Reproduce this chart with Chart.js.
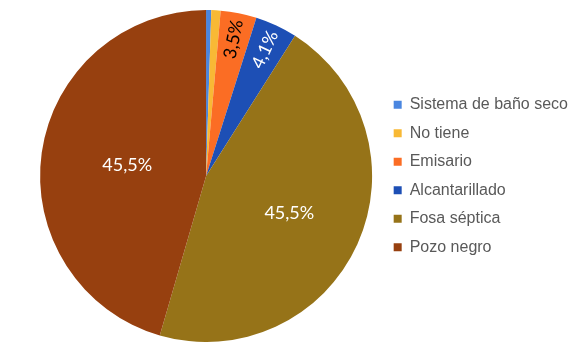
<!DOCTYPE html>
<html>
<head>
<meta charset="utf-8">
<script src="https://cdn.jsdelivr.net/npm/chart.js"></script>
<style>
  html, body { margin: 0; padding: 0; background: #fff; }
  #wrap { width: 569px; height: 342px; }
</style>
</head>
<body>
<div id="wrap"><canvas id="pieChart" width="569" height="342"></canvas></div>
<script>
// Tipo de sistema de eliminación de excretas (%)
const categories = ['Sistema de baño seco', 'No tiene', 'Emisario', 'Alcantarillado', 'Fosa séptica', 'Pozo negro'];
const shares = [0.5, 0.9, 3.5, 4.1, 45.5, 45.5];
const sliceColors = ['#4a86e0', '#f8b935', '#fb6d24', '#1d4fb5', '#967318', '#97400f'];

// percentage labels drawn on top of the slices
const sliceLabels = {
  id: 'sliceLabels',
  afterDatasetsDraw(chart, args, opts) {
    const ctx = chart.ctx;
    const meta = chart.getDatasetMeta(0);
    const values = chart.data.datasets[0].data;
    meta.data.forEach((arc, i) => {
      const p = opts.place[i];
      if (!p) return;
      const { x, y, startAngle, endAngle, outerRadius } =
        arc.getProps(['x', 'y', 'startAngle', 'endAngle', 'outerRadius'], true);
      const mid = (startAngle + endAngle) / 2;
      const r = outerRadius * p.r;
      ctx.save();
      ctx.translate(x + Math.cos(mid) * r, y + Math.sin(mid) * r);
      if (p.rotate) ctx.rotate(mid);
      ctx.font = '18px Lato';
      ctx.fillStyle = p.color;
      ctx.textAlign = 'center';
      ctx.textBaseline = 'middle';
      ctx.fillText(values[i].toFixed(1).replace('.', ',') + '%', 0, 0);
      ctx.restore();
    });
  }
};

new Chart(document.getElementById('pieChart'), {
  type: 'pie',
  data: {
    labels: categories,
    datasets: [{
      data: shares,
      backgroundColor: sliceColors,
      borderWidth: 0
    }]
  },
  options: {
    responsive: false,
    animation: false,
    layout: { padding: { top: 10, bottom: 0, left: 31, right: -9 } },
    plugins: {
      legend: {
        position: 'right',
        labels: {
          boxWidth: 8,
          boxHeight: 8,
          padding: 12.5,
          color: '#595959',
          font: { family: '"Liberation Sans", Arial, sans-serif', size: 16 }
        }
      },
      tooltip: { enabled: false },
      sliceLabels: {
        place: [
          null,
          null,
          { r: 0.84, rotate: true, color: '#000' },
          { r: 0.84, rotate: true, color: '#fff' },
          { r: 0.55, rotate: false, color: '#fff' },
          { r: 0.48, rotate: false, color: '#fff' }
        ]
      }
    }
  },
  plugins: [sliceLabels]
});
</script>
</body>
</html>
